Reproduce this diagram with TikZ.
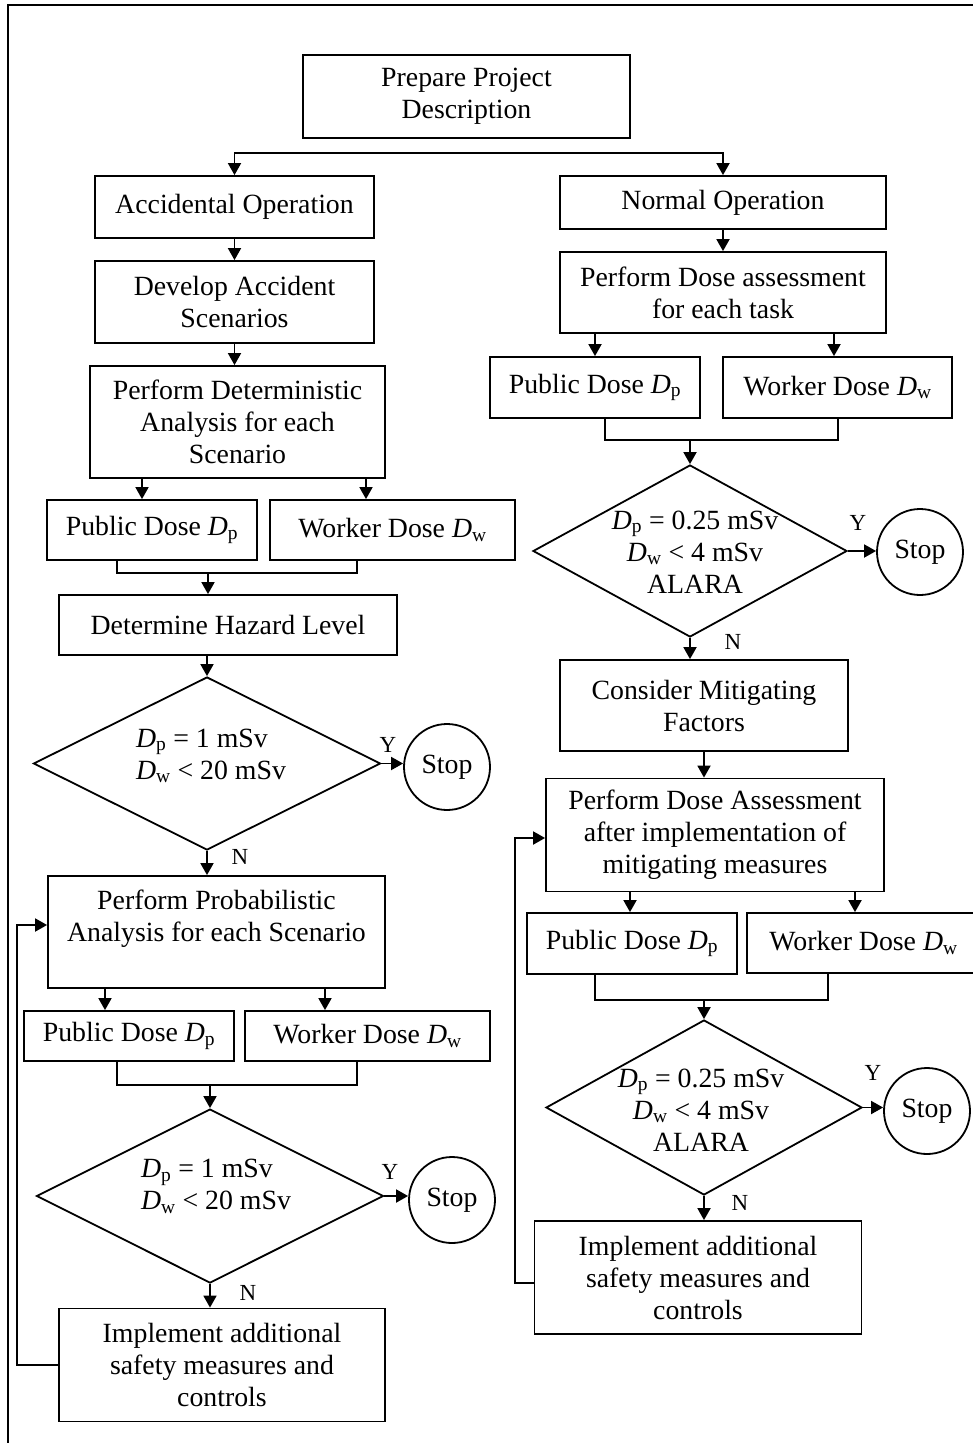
\documentclass[tikz,border=0pt]{standalone}
\usepackage{fontspec}
\setmainfont{Liberation Serif}
\usetikzlibrary{arrows.meta,shapes.geometric,calc}
\newcommand{\Dpub}{\textit{D}\textsubscript{p}}
\newcommand{\Dwrk}{\textit{D}\textsubscript{w}}
\begin{document}
\begin{tikzpicture}[x=1pt,y=-1pt,
  base/.style={font=\fontsize{27.8}{32}\selectfont},
  box/.style={base, draw, line width=1.8pt, rectangle, inner sep=0pt, align=center},
  dia/.style={draw, line width=1.8pt, diamond, inner sep=0pt},
  dtext/.style={base, inner sep=0pt},
  stopc/.style={base, draw, circle, line width=1.8pt, minimum size=86pt, inner sep=0pt},
  lbl/.style={font=\fontsize{23}{26}\selectfont, inner sep=0pt},
  arr/.style={line width=1.8pt, -{Triangle[length=12pt,width=13pt]}},
  ln/.style={line width=1.8pt}]
\useasboundingbox (0,0) rectangle (973,1443);
% outer frame
\draw[ln] (8,1470) -- (8,5) -- (990,5);

% ---------- top ----------
\node[box, minimum width=327pt, minimum height=83pt] (prep) at (466.5,96.5) {Prepare Project\\Description};
\coordinate (split) at (466.5,153);
\node[box, minimum width=279pt, minimum height=62pt] (acc) at (234.5,207) {Accidental Operation};
\node[box, minimum width=326pt, minimum height=53pt] (norm) at (723,202.5) {Normal Operation};
\draw[arr] (split) -| (acc.north);
\draw[arr] (split) -| (norm.north);

% ---------- left column ----------
\node[box, minimum width=279pt, minimum height=82pt] (dev) at (234.5,302) {Develop Accident\\Scenarios};
\node[box, minimum width=295pt, minimum height=112pt] (det) at (237.5,422) {Perform Deterministic\\Analysis for each\\Scenario};
\draw[arr] (acc) -- (dev);
\draw[arr] (dev.south) -- (dev.south |- det.north);

\node[box, minimum width=210pt, minimum height=60pt] (pub1) at (152,530) {Public Dose \Dpub};
\node[box, minimum width=245pt, minimum height=60pt] (wrk1) at (392.5,530) {Worker Dose \Dwrk};
\coordinate (xa1) at (142,0);
\coordinate (xb1) at (366,0);
\draw[arr] (det.south -| xa1) -- (pub1.north -| xa1);
\draw[arr] (det.south -| xb1) -- (wrk1.north -| xb1);

\node[box, minimum width=338pt, minimum height=60pt] (haz) at (228,625) {Determine Hazard Level};
\coordinate (pa1) at (117,0);
\coordinate (pb1) at (357,0);
\coordinate (j1) at (208,573);
\draw[ln] (pub1.south -| pa1) |- (j1) -| (wrk1.south -| pb1);
\draw[arr] (j1) -- (haz.north -| j1);

\node[dia, minimum width=347pt, minimum height=173pt] (dia1) at (207,763.5) {};
\node[dtext, align=left] (dia1t) at (211,756) {\Dpub{} = 1 mSv\\\Dwrk{} < 20 mSv};
\draw[arr] (haz.south -| dia1.north) -- (dia1.north);
\node[stopc] (stop1) at (447,767) {Stop};
\draw[arr] (dia1.east) -- (stop1.west |- dia1.east);
\node[lbl] (y1) at (388,745) {Y};
\node[lbl] (n1) at (240,857) {N};

\node[box, minimum width=337pt, minimum height=112pt] (prob) at (216.5,932) {Perform Probabilistic\\Analysis for each Scenario\\\mbox{}};
\draw[arr] (dia1.south) -- (dia1.south |- prob.north);

\node[box, minimum width=210pt, minimum height=50pt] (pub2) at (129,1036) {Public Dose \Dpub};
\node[box, minimum width=245pt, minimum height=50pt] (wrk2) at (367.5,1036) {Worker Dose \Dwrk};
\coordinate (xa2) at (105,0);
\coordinate (xb2) at (325,0);
\draw[arr] (prob.south -| xa2) -- (pub2.north -| xa2);
\draw[arr] (prob.south -| xb2) -- (wrk2.north -| xb2);

\node[dia, minimum width=347pt, minimum height=174pt] (dia2) at (210,1196) {};
\node[dtext, align=left] (dia2t) at (216,1186.5) {\Dpub{} = 1 mSv\\\Dwrk{} < 20 mSv};
\coordinate (j2) at (210,1085);
\draw[ln] (pub2.south -| pa1) |- (j2) -| (wrk2.south -| pb1);
\draw[arr] (j2) -- (dia2.north);
\node[stopc] (stop2) at (452,1200) {Stop};
\draw[arr] (dia2.east) -- (stop2.west |- dia2.east);
\node[lbl] (y2) at (390,1172) {Y};
\node[lbl] (n2) at (248,1293) {N};

\node[box, minimum width=326pt, minimum height=113pt] (imp1) at (222,1365) {Implement additional\\safety measures and\\controls};
\draw[arr] (dia2.south) -- (dia2.south |- imp1.north);
\coordinate (fb1) at (17,0);
\draw[arr] (imp1.west) -- (imp1.west -| fb1) |- ([yshift=7pt]prob.west);

% ---------- right column ----------
\node[box, minimum width=326pt, minimum height=81pt] (perf) at (723,292.5) {Perform Dose assessment\\for each task};
\draw[arr] (norm) -- (perf);
\node[box, minimum width=210pt, minimum height=61pt] (rpub1) at (595,387.5) {Public Dose \Dpub};
\node[box, minimum width=229pt, minimum height=61pt] (rwrk1) at (837.5,387.5) {Worker Dose \Dwrk};
\coordinate (rxa1) at (595,0);
\coordinate (rxb1) at (834,0);
\draw[arr] (perf.south -| rxa1) -- (rpub1.north -| rxa1);
\draw[arr] (perf.south -| rxb1) -- (rwrk1.north -| rxb1);

\node[dia, minimum width=314pt, minimum height=172pt] (rdia1) at (690,551) {};
\node[dtext, align=center] (rdia1t) at (695,552) {\Dpub{} = 0.25 mSv\\\Dwrk{} < 4 mSv\\ALARA};
\coordinate (rpa1) at (605,0);
\coordinate (rpb1) at (838,0);
\coordinate (rj1) at (690,440);
\draw[ln] (rpub1.south -| rpa1) |- (rj1) -| (rwrk1.south -| rpb1);
\draw[arr] (rj1) -- (rdia1.north);
\node[stopc] (rstop1) at (920,552) {Stop};
\draw[arr] (rdia1.east) -- (rstop1.west |- rdia1.east);
\node[lbl] (y3) at (858,523) {Y};
\node[lbl] (n3) at (733,642) {N};

\node[box, minimum width=288pt, minimum height=91pt] (cons) at (704,705.5) {Consider Mitigating\\Factors};
\draw[arr] (rdia1.south) -- (rdia1.south |- cons.north);
\node[box, minimum width=338pt, minimum height=113pt] (pda) at (715,835) {Perform Dose Assessment\\after implementation of\\mitigating measures};
\draw[arr] (cons.south) -- (cons.south |- pda.north);

\node[box, minimum width=210pt, minimum height=61pt] (rpub2) at (632,943.5) {Public Dose \Dpub};
\node[box, minimum width=233pt, minimum height=60pt] (rwrk2) at (863.5,943) {Worker Dose \Dwrk};
\coordinate (rxa2) at (630,0);
\coordinate (rxb2) at (855,0);
\draw[arr] (pda.south -| rxa2) -- (rpub2.north -| rxa2);
\draw[arr] (pda.south -| rxb2) -- (rwrk2.north -| rxb2);

\node[dia, minimum width=316pt, minimum height=175pt] (rdia2) at (704,1107.5) {};
\node[dtext, align=center] (rdia2t) at (701,1110) {\Dpub{} = 0.25 mSv\\\Dwrk{} < 4 mSv\\ALARA};
\coordinate (rpa2) at (595,0);
\coordinate (rpb2) at (828,0);
\coordinate (rj2) at (704,1000);
\draw[ln] (rpub2.south -| rpa2) |- (rj2) -| (rwrk2.south -| rpb2);
\draw[arr] (rj2) -- (rdia2.north);
\node[stopc] (rstop2) at (927,1111) {Stop};
\draw[arr] (rdia2.east) -- (rstop2.west |- rdia2.east);
\node[lbl] (y4) at (873,1073) {Y};
\node[lbl] (n4) at (740,1203) {N};

\node[box, minimum width=327pt, minimum height=113pt] (imp2) at (698,1277.5) {Implement additional\\safety measures and\\controls};
\draw[arr] (rdia2.south) -- (rdia2.south |- imp2.north);
\coordinate (fb2) at (515,0);
\draw[arr] ([yshift=-5.5pt]imp2.west) -- ([yshift=-5.5pt]imp2.west -| fb2) |- ([yshift=-3pt]pda.west);
\end{tikzpicture}
\end{document}
